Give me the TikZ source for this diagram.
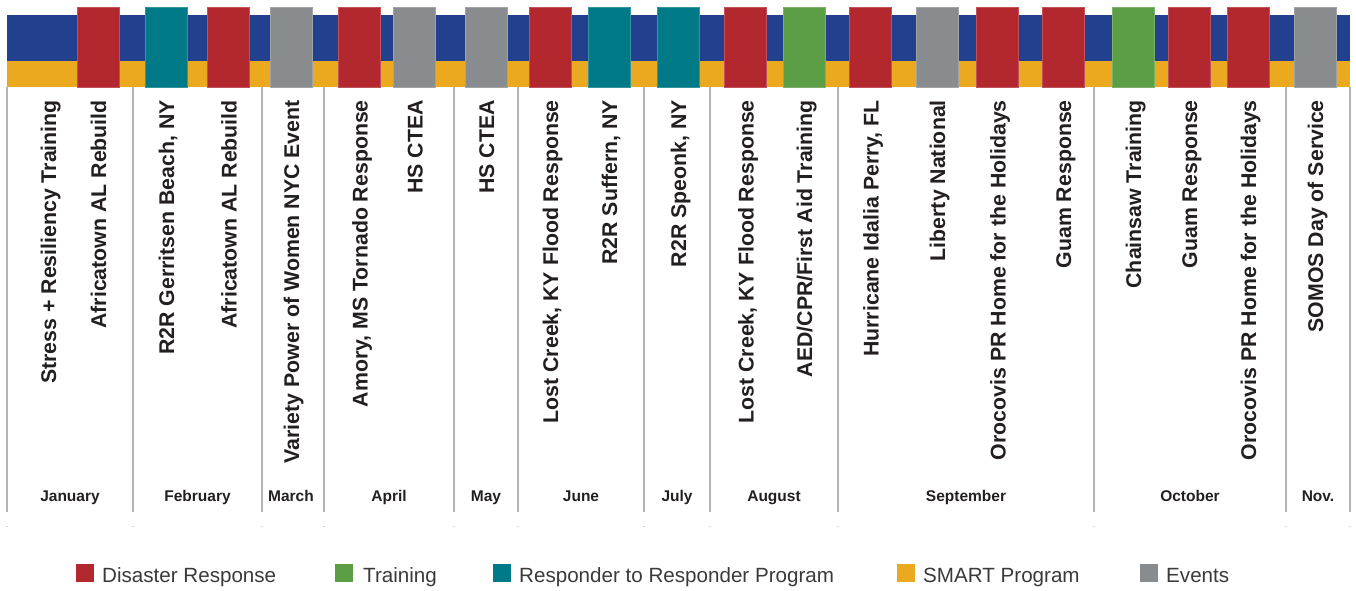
\documentclass[tikz,border=0pt]{standalone}
\usepackage{fontspec}
\setmainfont{Liberation Sans}
\definecolor{bandblue}{HTML}{23408E}
\definecolor{bandorange}{HTML}{EAA91F}
\definecolor{cred}{HTML}{B3272F}
\definecolor{cteal}{HTML}{017A87}
\definecolor{cgray}{HTML}{898C8E}
\definecolor{cgreen}{HTML}{5B9E45}
\definecolor{txt}{HTML}{231F20}
\definecolor{legtxt}{HTML}{3A3A3A}
\definecolor{sepgray}{HTML}{B4B4B4}
\tikzset{
  blk/.style={minimum width=42pt, minimum height=80pt, inner sep=0pt, line width=0.8pt},
  evt/.style={rotate=90, anchor=base east, inner sep=0pt, text=txt, font=\bfseries\fontsize{21.3}{21}\selectfont},
  mon/.style={anchor=base, inner sep=0pt, text=txt, font=\bfseries\fontsize{15.5}{16}\selectfont},
  sep/.style={draw=sepgray, line width=1.5pt},
  legsq/.style={minimum size=18pt, inner sep=0pt},
  legtx/.style={anchor=base west, inner sep=0pt, text=legtxt, font=\fontsize{20.6}{20}\selectfont},
}
\begin{document}
\begin{tikzpicture}[x=1pt,y=-1pt]
\useasboundingbox (0,0) rectangle (1356,591);
% bands
\fill[bandblue] (7,15) rectangle (1350,61);
\fill[bandorange] (7,61) rectangle (1350,87);
% blocks
\node[blk, fill=cred, draw=cred!80!white] (b1) at (98,47) {};
\node[blk, fill=cteal, draw=cteal!80!white] (b2) at (166,47) {};
\node[blk, fill=cred, draw=cred!80!white] (b3) at (228.5,47) {};
\node[blk, fill=cgray, draw=cgray!80!white] (b4) at (291,47) {};
\node[blk, fill=cred, draw=cred!80!white] (b5) at (359.5,47) {};
\node[blk, fill=cgray, draw=cgray!80!white] (b6) at (414.5,47) {};
\node[blk, fill=cgray, draw=cgray!80!white] (b7) at (486,47) {};
\node[blk, fill=cred, draw=cred!80!white] (b8) at (550,47) {};
\node[blk, fill=cteal, draw=cteal!80!white] (b9) at (609,47) {};
\node[blk, fill=cteal, draw=cteal!80!white] (b10) at (678,47) {};
\node[blk, fill=cred, draw=cred!80!white] (b11) at (745.5,47) {};
\node[blk, fill=cgreen, draw=cgreen!80!white] (b12) at (804,47) {};
\node[blk, fill=cred, draw=cred!80!white] (b13) at (870.5,47) {};
\node[blk, fill=cgray, draw=cgray!80!white] (b14) at (937,47) {};
\node[blk, fill=cred, draw=cred!80!white] (b15) at (997.5,47) {};
\node[blk, fill=cred, draw=cred!80!white] (b16) at (1063,47) {};
\node[blk, fill=cgreen, draw=cgreen!80!white] (b17) at (1133,47) {};
\node[blk, fill=cred, draw=cred!80!white] (b18) at (1189,47) {};
\node[blk, fill=cred, draw=cred!80!white] (b19) at (1248,47) {};
\node[blk, fill=cgray, draw=cgray!80!white] (b20) at (1315,47) {};
% separators
\foreach \x in {7,133,262,324,454,518,644,710,838,1094,1286,1350}{
  \draw[sep] (\x,87) -- (\x,512);
  \draw[draw=sepgray!60, line width=0.8pt] (\x-1,526) -- (\x+1,526);
}
% event labels
\node[evt] (e0) at (56,100) {Stress + Resiliency Training};
\node[evt] (e1) at (106,100) {Africatown AL Rebuild};
\node[evt] (e2) at (174,100) {R2R Gerritsen Beach, NY};
\node[evt] (e3) at (236.5,100) {Africatown AL Rebuild};
\node[evt] (e4) at (299,100) {Variety Power of Women NYC Event};
\node[evt] (e5) at (367.5,100) {Amory, MS Tornado Response};
\node[evt] (e6) at (422.5,100) {HS CTEA};
\node[evt] (e7) at (494,100) {HS CTEA};
\node[evt] (e8) at (558,100) {Lost Creek, KY Flood Response};
\node[evt] (e9) at (617,100) {R2R Suffern, NY};
\node[evt] (e10) at (686,100) {R2R Speonk, NY};
\node[evt] (e11) at (753.5,100) {Lost Creek, KY Flood Response};
\node[evt] (e12) at (812,100) {AED/CPR/First Aid Training};
\node[evt] (e13) at (878.5,100) {Hurricane Idalia Perry, FL};
\node[evt] (e14) at (945,100) {Liberty National};
\node[evt] (e15) at (1005.5,100) {Orocovis PR Home for the Holidays};
\node[evt] (e16) at (1071,100) {Guam Response};
\node[evt] (e17) at (1141,100) {Chainsaw Training};
\node[evt] (e18) at (1197,100) {Guam Response};
\node[evt] (e19) at (1256,100) {Orocovis PR Home for the Holidays};
\node[evt] (e20) at (1323,100) {SOMOS Day of Service};
% months
\node[mon] (m1) at (70,501) {January};
\node[mon] (m2) at (197.5,501) {February};
\node[mon] (m3) at (291,501) {March};
\node[mon] (m4) at (389,501) {April};
\node[mon] (m5) at (486,501) {May};
\node[mon] (m6) at (581,501) {June};
\node[mon] (m7) at (677,501) {July};
\node[mon] (m8) at (774,501) {August};
\node[mon] (m9) at (966,501) {September};
\node[mon] (m10) at (1190,501) {October};
\node[mon] (m11) at (1318,501) {Nov.};
% legend
\node[legsq, fill=cred] (l1) at (85,573) {};
\node[legtx] (t1) at (102,582) {Disaster Response};
\node[legsq, fill=cgreen] (l2) at (344,573) {};
\node[legtx] (t2) at (363,582) {Training};
\node[legsq, fill=cteal] (l3) at (501.5,573) {};
\node[legtx] (t3) at (519,582) {Responder to Responder Program};
\node[legsq, fill=bandorange] (l4) at (906,573) {};
\node[legtx] (t4) at (923,582) {SMART Program};
\node[legsq, fill=cgray] (l5) at (1148.5,573) {};
\node[legtx] (t5) at (1166,582) {Events};
\end{tikzpicture}
\end{document}
